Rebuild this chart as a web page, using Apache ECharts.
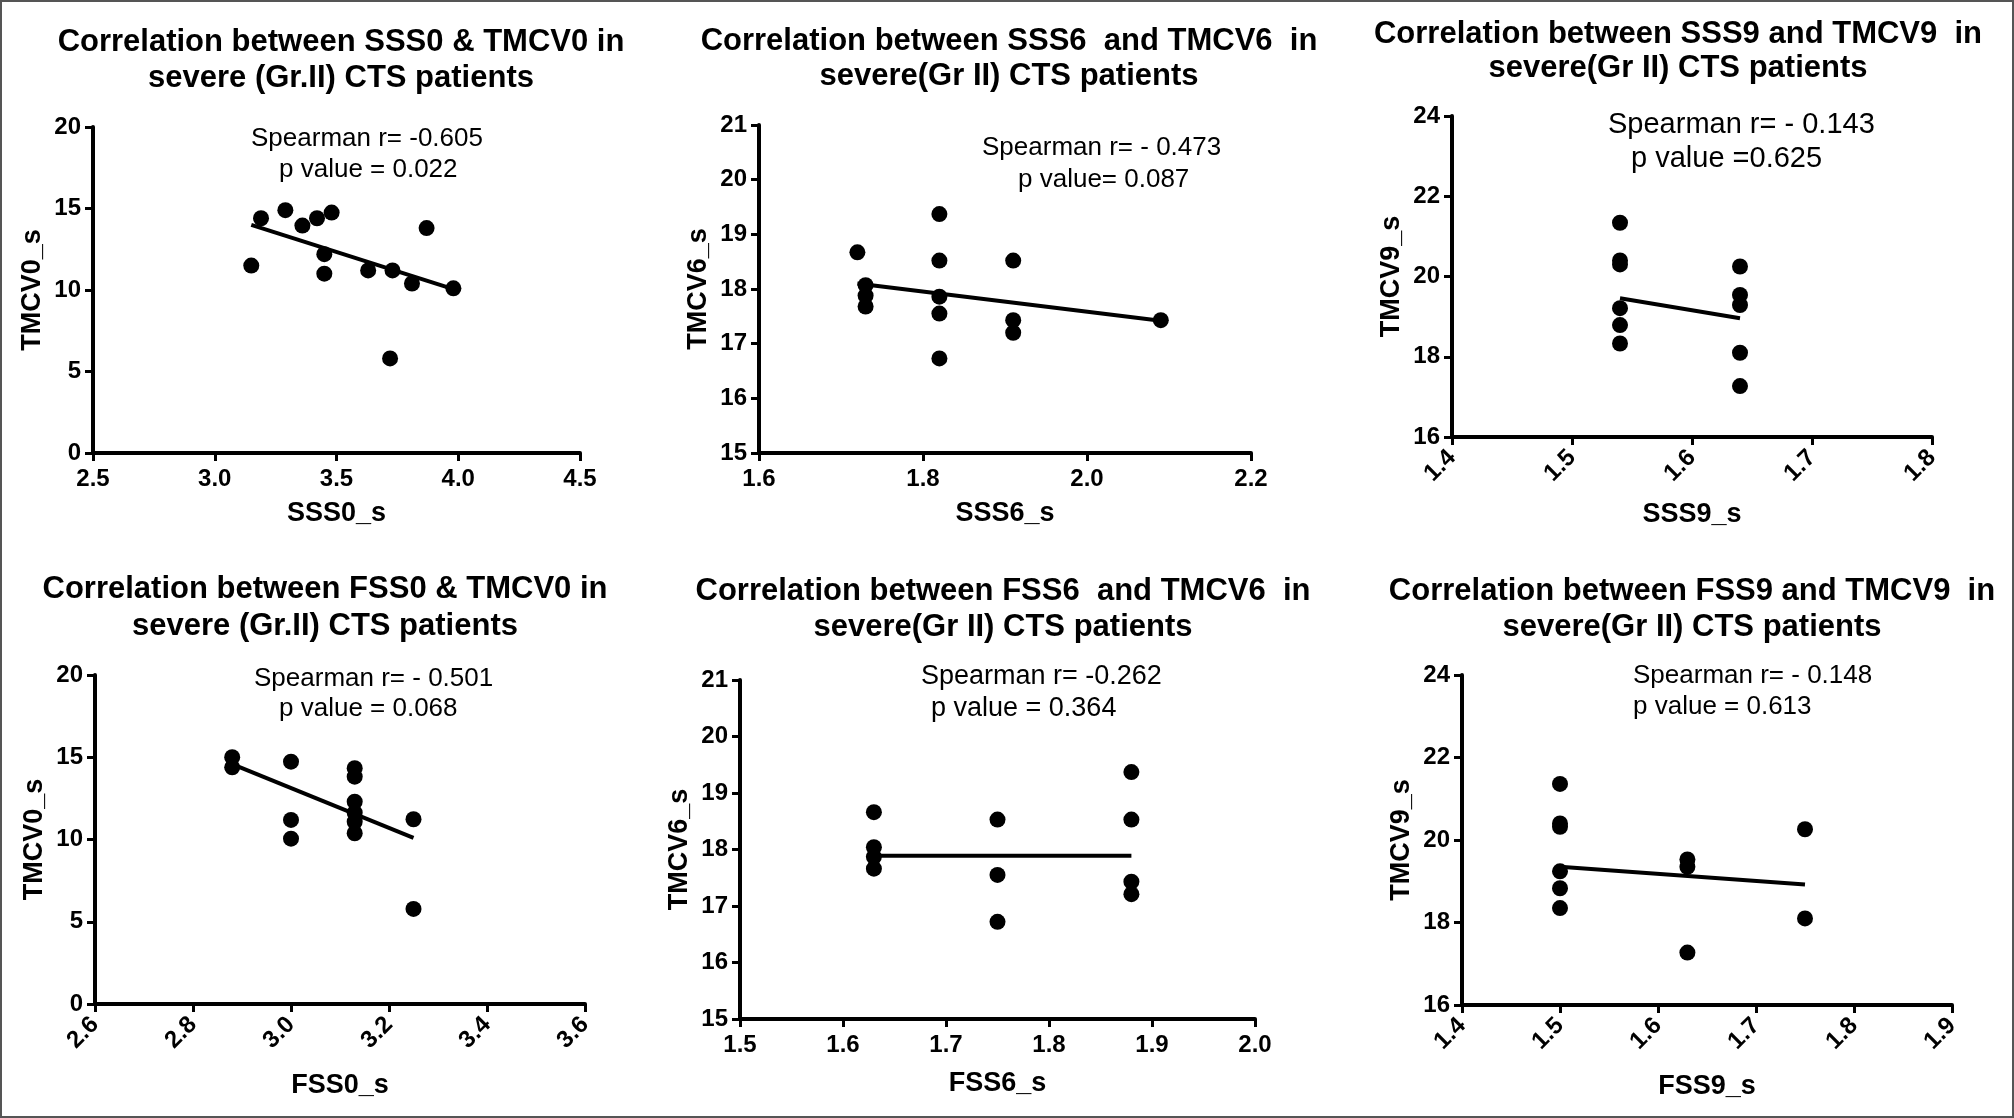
<!DOCTYPE html>
<html><head><meta charset="utf-8">
<script src="https://cdn.jsdelivr.net/npm/echarts@6/dist/echarts.min.js"></script>
<style>html,body{margin:0;padding:0;background:#fff}#c{width:2014px;height:1118px}</style>
</head><body><div id="c"></div>
<script>
// ---------------- DATA ----------------
const titles = [
  "Correlation between SSS0 & TMCV0 in\nsevere (Gr.II) CTS patients",
  "Correlation between SSS6  and TMCV6  in\nsevere(Gr II) CTS patients",
  "Correlation between SSS9 and TMCV9  in\nsevere(Gr II) CTS patients",
  "Correlation between FSS0 & TMCV0 in\nsevere (Gr.II) CTS patients",
  "Correlation between FSS6  and TMCV6  in\nsevere(Gr II) CTS patients",
  "Correlation between FSS9 and TMCV9  in\nsevere(Gr II) CTS patients"
];
const statLine1 = ["Spearman r= -0.605", "Spearman r= - 0.473", "Spearman r= - 0.143", "Spearman r= - 0.501", "Spearman r= -0.262", "Spearman r= - 0.148"];
const statLine2 = ["p value = 0.022", "p value= 0.087", "p value =0.625", "p value = 0.068", "p value = 0.364", "p value = 0.613"];
const xNames = ["SSS0_s", "SSS6_s", "SSS9_s", "FSS0_s", "FSS6_s", "FSS9_s"];
const yNames = ["TMCV0_s", "TMCV6_s", "TMCV9_s", "TMCV0_s", "TMCV6_s", "TMCV9_s"];

const xTicks1 = [2.5, 3.0, 3.5, 4.0, 4.5];
const yTicks1 = [0, 5, 10, 15, 20];
const xTicks2 = [1.6, 1.8, 2.0, 2.2];
const yTicks2 = [15, 16, 17, 18, 19, 20, 21];
const xTicks3 = [1.4, 1.5, 1.6, 1.7, 1.8];
const yTicks3 = [16, 18, 20, 22, 24];
const xTicks4 = [2.6, 2.8, 3.0, 3.2, 3.4, 3.6];
const yTicks4 = [0, 5, 10, 15, 20];
const xTicks5 = [1.5, 1.6, 1.7, 1.8, 1.9, 2.0];
const yTicks5 = [15, 16, 17, 18, 19, 20, 21];
const xTicks6 = [1.4, 1.5, 1.6, 1.7, 1.8, 1.9];
const yTicks6 = [16, 18, 20, 22, 24];

const p1X = [3.15, 3.19, 3.29, 3.36, 3.42, 3.48, 3.45, 3.45, 3.63, 3.73, 3.72, 3.81, 3.87, 3.98];
const p1Y = [11.5, 14.4, 14.9, 13.95, 14.4, 14.75, 12.2, 11.0, 11.2, 11.2, 5.8, 10.4, 13.8, 10.1];
const p1FitX = [3.15, 3.98];
const p1FitY = [14.0, 10.05];

const p2X = [1.72, 1.73, 1.73, 1.73, 1.82, 1.82, 1.82, 1.82, 1.82, 1.91, 1.91, 1.91, 2.09];
const p2Y = [18.67, 18.07, 17.88, 17.68, 19.37, 18.52, 17.86, 17.55, 16.73, 18.52, 17.43, 17.2, 17.43];
const p2FitX = [1.72, 2.09];
const p2FitY = [18.1, 17.42];

const p3X = [1.54, 1.54, 1.54, 1.54, 1.54, 1.54, 1.64, 1.64, 1.64, 1.64, 1.64];
const p3Y = [21.34, 20.4, 20.3, 19.21, 18.79, 18.33, 20.25, 19.54, 19.29, 18.1, 17.27];
const p3FitX = [1.54, 1.64];
const p3FitY = [19.46, 18.96];

const p4X = [2.88, 2.88, 3.0, 3.0, 3.0, 3.13, 3.13, 3.13, 3.13, 3.13, 3.13, 3.25, 3.25];
const p4Y = [15.0, 14.39, 14.73, 11.19, 10.05, 14.33, 13.82, 12.3, 11.63, 11.08, 10.38, 11.23, 5.78];
const p4FitX = [2.88, 3.25];
const p4FitY = [14.58, 10.1];

const p5X = [1.63, 1.63, 1.63, 1.63, 1.75, 1.75, 1.75, 1.88, 1.88, 1.88, 1.88];
const p5Y = [18.66, 18.04, 17.87, 17.66, 18.53, 17.55, 16.72, 19.37, 18.53, 17.43, 17.21];
const p5FitX = [1.63, 1.88];
const p5FitY = [17.89, 17.89];

const p6X = [1.5, 1.5, 1.5, 1.5, 1.5, 1.5, 1.63, 1.63, 1.63, 1.75, 1.75];
const p6Y = [21.36, 20.4, 20.32, 19.24, 18.83, 18.35, 19.53, 19.35, 17.27, 20.26, 18.1];
const p6FitX = [1.5, 1.75];
const p6FitY = [19.35, 18.92];

// ---------------- LAYOUT / STYLE ----------------
const FONT = '"Liberation Sans", Arial, Helvetica, sans-serif';
const panels = [
  {xT: xTicks1, yT: yTicks1, X: p1X, Y: p1Y, fX: p1FitX, fY: p1FitY, grid: [93, 127, 487, 326], rot: 0, xGap: 47, tc: 336, tt: 19, tlh: 36,
   s1: [246, 135, 26], s2: [274, 166, 26]},
  {xT: xTicks2, yT: yTicks2, X: p2X, Y: p2Y, fX: p2FitX, fY: p2FitY, grid: [759, 125, 492, 328], rot: 0, xGap: 47, tc: 1004, tt: 19, tlh: 35,
   s1: [977, 144, 26], s2: [1013, 176, 26]},
  {xT: xTicks3, yT: yTicks3, X: p3X, Y: p3Y, fX: p3FitX, fY: p3FitY, grid: [1452, 116, 480, 321], rot: 45, xGap: 64, tc: 1673, tt: 12, tlh: 34,
   s1: [1603, 121, 29], s2: [1626, 155, 29]},
  {xT: xTicks4, yT: yTicks4, X: p4X, Y: p4Y, fX: p4FitX, fY: p4FitY, grid: [95, 675, 490, 329], rot: 45, xGap: 68, tc: 320, tt: 566, tlh: 37,
   s1: [249, 675, 26], s2: [274, 705, 26]},
  {xT: xTicks5, yT: yTicks5, X: p5X, Y: p5Y, fX: p5FitX, fY: p5FitY, grid: [740, 680, 515, 339], rot: 0, xGap: 51, tc: 998, tt: 568, tlh: 36,
   s1: [916, 673, 27], s2: [926, 705, 27]},
  {xT: xTicks6, yT: yTicks6, X: p6X, Y: p6Y, fX: p6FitX, fY: p6FitY, grid: [1462, 675, 490, 330], rot: 45, xGap: 68, tc: 1687, tt: 568, tlh: 36,
   s1: [1628, 672, 26], s2: [1628, 703, 26]}
];

const grids = [], xAxes = [], yAxes = [], series = [], titleList = [];
panels.forEach((p, i) => {
  const [gl, gt, gw, gh] = p.grid;
  grids.push({left: gl, top: gt, width: gw, height: gh, containLabel: false});
  const axisCommon = {
    axisLine: {show: true, onZero: false, lineStyle: {color: '#000', width: 4}},
    axisTick: {show: true, inside: false, length: 8, lineStyle: {color: '#000', width: 3}},
    splitLine: {show: false},
    nameLocation: 'middle',
    nameTextStyle: {fontFamily: FONT, fontWeight: 'bold', fontSize: 27, color: '#000'}
  };
  const xInt = Math.round((p.xT[1] - p.xT[0]) * 1000) / 1000;
  const yInt = Math.round((p.yT[1] - p.yT[0]) * 1000) / 1000;
  xAxes.push(Object.assign({}, axisCommon, {
    type: 'value', gridIndex: i, min: p.xT[0], max: p.xT[p.xT.length - 1], interval: xInt,
    name: xNames[i], nameGap: p.xGap,
    axisLabel: {show: true, rotate: p.rot, margin: p.rot ? 17 : 14, color: '#000', fontFamily: FONT, fontWeight: 'bold', fontSize: 24,
      formatter: v => v.toFixed(1)}
  }));
  yAxes.push(Object.assign({}, axisCommon, {
    type: 'value', gridIndex: i, min: p.yT[0], max: p.yT[p.yT.length - 1], interval: yInt,
    name: yNames[i], nameGap: 47,
    axisLabel: {show: true, margin: 12, color: '#000', fontFamily: FONT, fontWeight: 'bold', fontSize: 24,
      formatter: v => String(Math.round(v))}
  }));
  series.push({
    type: 'scatter', xAxisIndex: i, yAxisIndex: i, symbol: 'circle', symbolSize: 16,
    itemStyle: {color: '#000', opacity: 1}, silent: true,
    data: p.X.map((x, k) => [x, p.Y[k]])
  });
  series.push({
    type: 'line', xAxisIndex: i, yAxisIndex: i, showSymbol: false, symbol: 'none', silent: true,
    lineStyle: {color: '#000', width: 4},
    data: p.fX.map((x, k) => [x, p.fY[k]])
  });
  titleList.push({
    text: titles[i], left: p.tc, top: p.tt, textAlign: 'center',
    textStyle: {fontFamily: FONT, fontWeight: 'bold', fontSize: 31, lineHeight: p.tlh, color: '#000'}
  });
  [[statLine1[i], p.s1], [statLine2[i], p.s2]].forEach(([txt, s]) => {
    titleList.push({
      text: txt, left: s[0], top: s[1] - s[2] / 2 - 1,
      textStyle: {fontFamily: FONT, fontWeight: 'normal', fontSize: s[2], lineHeight: s[2], color: '#000'}
    });
  });
});

const chart = echarts.init(document.getElementById('c'), null, {renderer: 'canvas'});
chart.setOption({
  backgroundColor: '#fff',
  animation: false,
  title: titleList,
  grid: grids,
  xAxis: xAxes,
  yAxis: yAxes,
  series: series,
  graphic: [{
    type: 'rect', shape: {x: 1, y: 1, width: 2012, height: 1116},
    style: {fill: 'none', stroke: '#555', lineWidth: 2}, silent: true
  }]
});
</script>
</body></html>
